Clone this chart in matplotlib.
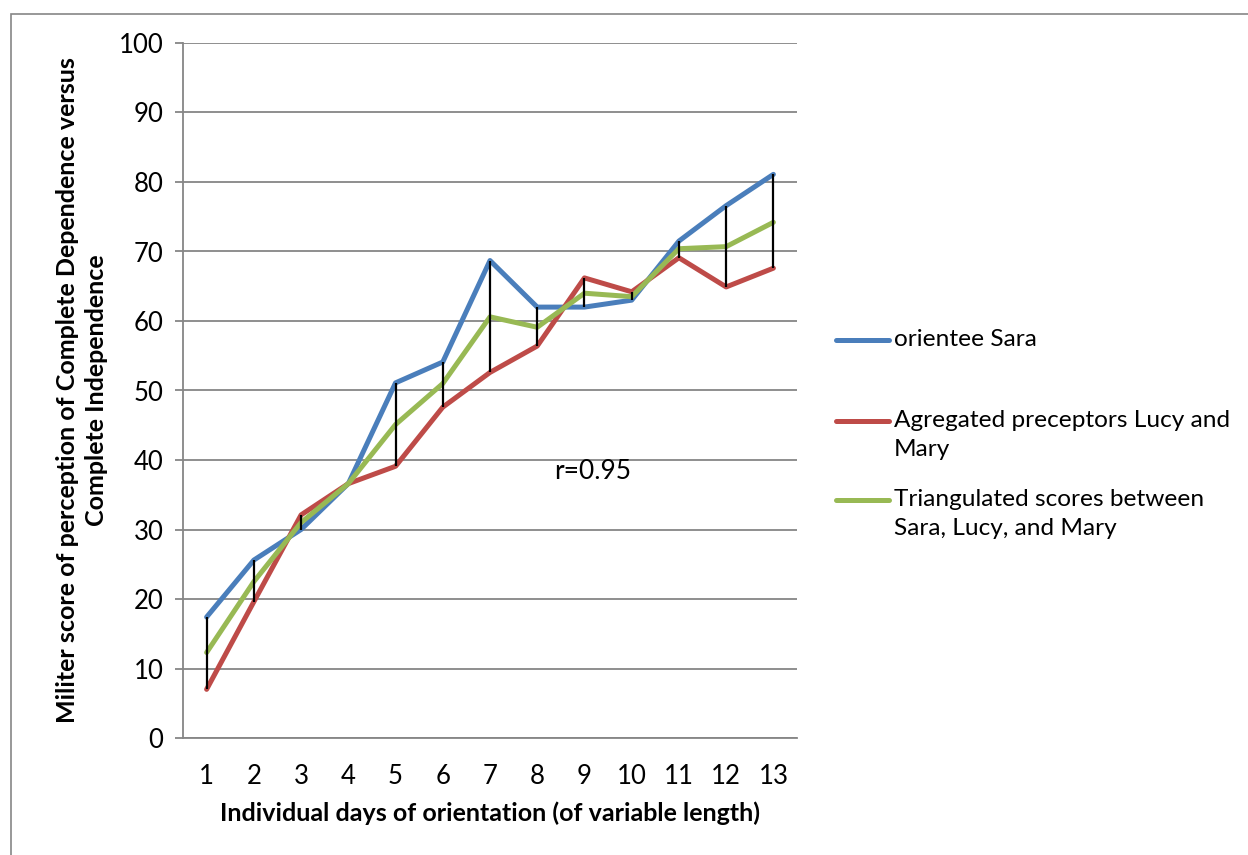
import numpy as np
import matplotlib.pyplot as plt
from matplotlib.lines import Line2D
from matplotlib.patches import Rectangle

plt.rcParams['font.family'] = ['Lato', 'DejaVu Sans']

days = list(range(1, 14))
sara = [17.4, 25.6, 30.0, 36.6, 51.1, 54.1, 68.7, 62.0, 62.0, 63.0, 71.5, 76.6, 81.1]
lucy_mary = [7.0, 19.6, 32.1, 36.6, 39.1, 47.6, 52.6, 56.4, 66.2, 64.2, 69.1, 64.9, 67.6]
triangulated = [12.3, 22.5, 31.0, 36.6, 45.1, 51.0, 60.6, 59.1, 64.0, 63.5, 70.4, 70.7, 74.2]

labels = ['orientee Sara',
          'Agregated preceptors Lucy and\nMary',
          'Triangulated scores between\nSara, Lucy, and Mary']
colors = ['#4A7EBB', '#BE4B48', '#98B954']

fig = plt.figure(figsize=(12.48, 8.55), dpi=100)
ax = fig.add_axes([183 / 1248, 1 - 738 / 855, (797 - 183) / 1248, (738 - 43) / 855])

# outer chart border
fig.patches.append(Rectangle((11 / 1248, -0.1), 1.2, 1 - 14 / 855 + 0.1,
                             transform=fig.transFigure, fill=False,
                             edgecolor='#868686', linewidth=1.2))

x = np.array(days)
allv = np.vstack([sara, lucy_mary, triangulated])
# high-low lines
ax.vlines(x, allv.min(axis=0), allv.max(axis=0), color='black', linewidth=1.6, zorder=4)

for vals, c in zip([sara, lucy_mary, triangulated], colors):
    ax.plot(x, vals, color=c, linewidth=3.6, solid_capstyle='round', zorder=3)

ax.set_xlim(0.5, 13.5)
ax.set_ylim(0, 100)
ax.set_yticks(range(0, 101, 10))
ax.set_xticks(days)
ax.yaxis.grid(True, color='#868686', linewidth=1.3)
ax.set_axisbelow(True)
for s in ['top', 'right']:
    ax.spines[s].set_visible(False)
for s in ['left', 'bottom']:
    ax.spines[s].set_color('#868686')
    ax.spines[s].set_linewidth(1.3)
ax.tick_params(axis='y', length=6, width=1.3, color='#868686', labelsize=18.5, pad=8)
ax.tick_params(axis='x', length=0, labelsize=18.5, pad=19)

ax.set_xlabel('Individual days of orientation (of variable length)',
              fontsize=18, fontweight='bold', labelpad=9)
ax.set_ylabel('Militer score of perception of Complete Dependence versus\nComplete Independence',
              fontsize=18, fontweight='bold', labelpad=8, linespacing=1.3)

ax.text(8.35, 38.3, 'r=0.95', fontsize=19, va='center', ha='left')

# legend drawn beside the plot
leg_y = [340, 421, 500]
for lab, c, yy in zip(labels, colors, leg_y):
    yf = 1 - yy / 855
    fig.add_artist(Line2D([836 / 1248, 889 / 1248], [yf, yf], color=c,
                          linewidth=3.6, solid_capstyle='round',
                          transform=fig.transFigure))
    fig.text(894 / 1248, 1 - (yy - 11) / 855, lab, fontsize=17.6, va='top', ha='left',
             linespacing=1.45)

fig.savefig('out.png', dpi=100)
